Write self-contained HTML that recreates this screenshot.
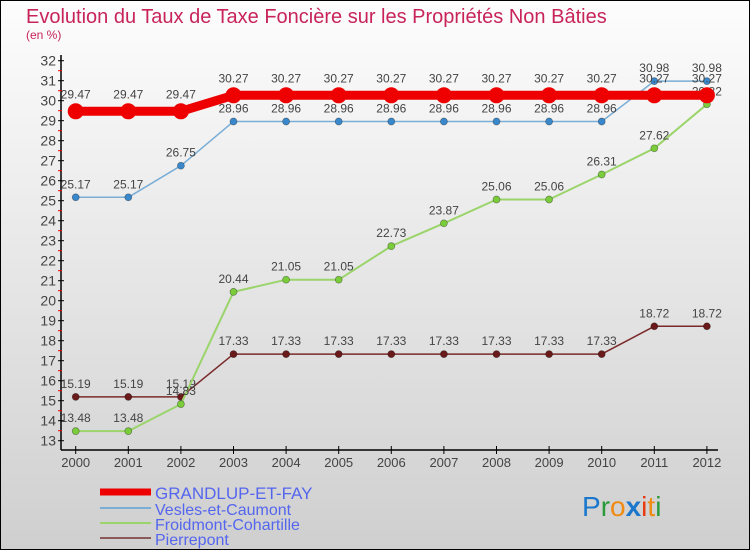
<!DOCTYPE html>
<html><head><meta charset="utf-8"><style>
html,body{margin:0;padding:0;}
body{width:750px;height:550px;overflow:hidden;font-family:"Liberation Sans",sans-serif;}
svg text{font-family:"Liberation Sans",sans-serif;}
</style></head><body>
<svg width="750" height="550" xmlns="http://www.w3.org/2000/svg">
<defs><linearGradient id="bg" x1="0" y1="0" x2="0" y2="1"><stop offset="0" stop-color="#fdfdfd"/><stop offset="1" stop-color="#cfcfcf"/></linearGradient></defs>
<rect x="0.5" y="0.5" width="749" height="549" fill="url(#bg)" stroke="#000"/>
<text x="26" y="23" font-size="20" fill="#c8245a">Evolution du Taux de Taxe Foncière sur les Propriétés Non Bâties</text>
<text x="26" y="39" font-size="12" fill="#c8245a">(en %)</text>
<g id="axes"></g>
<g id="series"></g>
<g>
<line x1="100" y1="492" x2="151" y2="492" stroke="#e00" stroke-width="7"/>
<text x="155" y="499" font-size="17" fill="#5566ee">GRANDLUP-ET-FAY</text>
<line x1="100" y1="508" x2="151" y2="508" stroke="#7aaed6" stroke-width="2"/>
<text x="155" y="515" font-size="16" fill="#5566ee">Vesles-et-Caumont</text>
<line x1="100" y1="523" x2="151" y2="523" stroke="#9ad46a" stroke-width="2"/>
<text x="155" y="530" font-size="16" fill="#5566ee">Froidmont-Cohartille</text>
<line x1="100" y1="538" x2="151" y2="538" stroke="#8a5a5a" stroke-width="2"/>
<text x="155" y="545" font-size="16" fill="#5566ee">Pierrepont</text>
</g>
<g font-size="28">
<text x="582" y="516"><tspan fill="#1a77cc">P</tspan><tspan fill="#2a9a3a">r</tspan><tspan fill="#f08a10">o</tspan><tspan fill="#1a77cc" font-weight="bold">x</tspan><tspan fill="#e83a10">i</tspan><tspan fill="#f08a10">t</tspan><tspan fill="#2a9a3a">i</tspan></text>
</g>
</svg>
<script>
const years=[2000,2001,2002,2003,2004,2005,2006,2007,2008,2009,2010,2011,2012];
const grandlup=[29.47,29.47,29.47,30.27,30.27,30.27,30.27,30.27,30.27,30.27,30.27,30.27,30.27];
const vesles=[25.17,25.17,26.75,28.96,28.96,28.96,28.96,28.96,28.96,28.96,28.96,30.98,30.98];
const froidmont=[13.48,13.48,14.83,20.44,21.05,21.05,22.73,23.87,25.06,25.06,26.31,27.62,29.82];
const pierrepont=[15.19,15.19,15.19,17.33,17.33,17.33,17.33,17.33,17.33,17.33,17.33,18.72,18.72];
const yTicks=[13,14,15,16,17,18,19,20,21,22,23,24,25,26,27,28,29,30,31,32];
const NS="http://www.w3.org/2000/svg";
const xs=i=>75.7+i*52.6;
const ys=v=>440.7-(v-13)*20;
function mk(tag,attrs,parent){const e=document.createElementNS(NS,tag);for(const k in attrs)e.setAttribute(k,attrs[k]);parent.appendChild(e);return e;}
const ax=document.getElementById('axes');
let a=mk('line',{x1:61,y1:55,x2:61,y2:450,stroke:'#000','stroke-width':1.5},ax);


a=mk('line',{x1:61,y1:450,x2:718,y2:450,stroke:'#000','stroke-width':1.5},ax);


yTicks.forEach(t=>{
 const y=ys(t);
 let l=mk('line',{x1:58,y1:y,x2:64,y2:y,stroke:'#000'},ax);
 
 
 if(t<32){let m=mk('line',{x1:58,y1:y-10,x2:62,y2:y-10,stroke:'#e00'},ax);
 
 }
 let tx=mk('text',{x:56,y:y+5,'text-anchor':'end','font-size':14,fill:'#444'},ax);
 tx.textContent=t;
 
 
});
years.forEach((yr,i)=>{
 const x=xs(i);
 let l=mk('line',{x1:x,y1:446,x2:x,y2:454,stroke:'#000'},ax);
 
 
 let tx=mk('text',{x:x,y:467,'text-anchor':'middle','font-size':13,fill:'#444'},ax);
 tx.textContent=yr;
 
 
});
const sg=document.getElementById('series');
function series(vals,name,color,w,r,fill,labelFs){
 const g=mk('g',{},sg);
 
 
 const pl=mk('polyline',{points:vals.map((v,i)=>xs(i)+','+ys(v)).join(' '),fill:'none',stroke:color,'stroke-width':w,'stroke-linejoin':'round'},g);
 
 
 vals.forEach((v,i)=>{
  const c=mk('circle',{cx:xs(i),cy:ys(v),r:r,fill:fill,stroke:color==='#e00'?'none':'rgba(0,0,0,0.4)','stroke-width':0.7},g);
  
  
  const t=mk('text',{x:xs(i),y:ys(v)-9-(r>5?4:0),'text-anchor':'middle','font-size':labelFs,fill:'#444'},g);
  t.textContent=v.toFixed(2).replace(/0$/,'').replace(/\.0$/,'');
  
  
 });
}
series(pierrepont,'pierrepont','#7a2a2a',1.5,3.5,'#6a1a1a',12);
series(froidmont,'froidmont','#9ad46a',2,3.5,'#7acc3a',12);
series(vesles,'vesles','#7aaed6',1.5,3.5,'#3a88cc',12);
series(grandlup,'grandlup','#e00',9,8,'#e00',12);
</script>
</body></html>
